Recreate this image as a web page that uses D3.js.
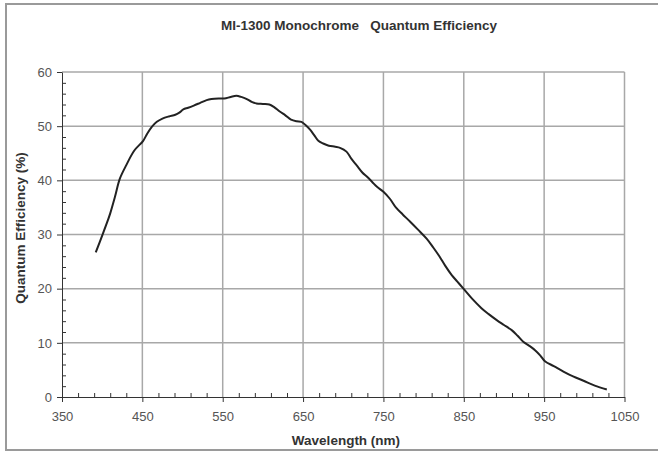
<!DOCTYPE html>
<html><head><meta charset="utf-8">
<script src="https://cdn.jsdelivr.net/npm/d3@7"></script>
<style>
html,body{margin:0;padding:0;background:#fff;}
svg{display:block;font-family:"Liberation Sans",Arial,sans-serif;}
</style></head>
<body><svg id="c" width="658" height="453"></svg>
<script>
const chartTitle = "MI-1300 Monochrome   Quantum Efficiency";
const xTitle = "Wavelength (nm)";
const yTitle = "Quantum Efficiency (%)";
const xTicks = [350,450,550,650,750,850,950,1050];
const yTicks = [0,10,20,30,40,50,60];
const wavelength = [392,400,407,410,416,422,430,440,451,456,462,468,475,483,491,496,501,507,514,522,530,536,545,552,560,567,573,580,586,592,600,608,614,621,628,635,642,648,653,659,664,669,675,682,690,696,704,710,717,724,730,736,742,750,758,766,774,783,793,804,812,820,827,835,842,849,860,872,881,891,900,910,917,924,932,939,945,951,962,974,986,999,1013,1028];
const qe = [26.7,29.8,32.6,33.9,37.0,40.3,42.8,45.5,47.3,48.6,49.9,50.8,51.4,51.8,52.1,52.5,53.1,53.4,53.8,54.3,54.8,55.0,55.1,55.1,55.4,55.6,55.4,55.0,54.5,54.2,54.1,54.0,53.5,52.7,52.0,51.2,50.9,50.8,50.2,49.3,48.3,47.3,46.8,46.4,46.2,46.0,45.3,44.0,42.7,41.4,40.6,39.7,38.8,37.9,36.6,34.9,33.7,32.4,30.9,29.2,27.6,25.9,24.2,22.5,21.3,20.1,18.2,16.4,15.3,14.2,13.3,12.3,11.3,10.2,9.4,8.6,7.7,6.6,5.7,4.7,3.8,3.0,2.1,1.4];

const svg = d3.select("#c");
const L=62, R=624.5, T=72, B=397;
const x = d3.scaleLinear().domain([350,1050]).range([L,R]);
const y = d3.scaleLinear().domain([0,60]).range([B,T]);

// outer frame
svg.append("rect").attr("x",6).attr("y",4).attr("width",670).attr("height",446)
  .attr("fill","#fff").attr("stroke","#9a9a9a").attr("stroke-width",2);

// gridlines
const grid = svg.append("g").attr("stroke","#a8a8a8").attr("stroke-width",1.5);
yTicks.filter(v=>v>0).forEach(v=>grid.append("line").attr("x1",L).attr("x2",R).attr("y1",y(v)).attr("y2",y(v)));
xTicks.filter(v=>v>350).forEach(v=>grid.append("line").attr("x1",x(v)).attr("x2",x(v)).attr("y1",T).attr("y2",B));

// minor ticks
const xMinor = d3.range(370,1050,20).filter(v=>(v-350)%100!==0);
const yMinor = d3.range(2,60,2).filter(v=>v%10!==0);
svg.append("g").attr("transform",`translate(0,${B})`)
  .call(d3.axisBottom(x).tickValues(xMinor).tickSize(-4).tickFormat(""))
  .call(g=>g.select(".domain").remove())
  .selectAll("line").attr("stroke","#333");
svg.append("g").attr("transform",`translate(${L},0)`)
  .call(d3.axisLeft(y).tickValues(yMinor).tickSize(-4).tickFormat(""))
  .call(g=>g.select(".domain").remove())
  .selectAll("line").attr("stroke","#333");

// major axes
const xa = svg.append("g").attr("transform",`translate(0,${B})`)
  .call(d3.axisBottom(x).tickValues(xTicks).tickFormat(d3.format("d")).tickSize(5).tickSizeOuter(0).tickPadding(10));
const ya = svg.append("g").attr("transform",`translate(${L},0)`)
  .call(d3.axisLeft(y).tickValues(yTicks).tickFormat(d3.format("d")).tickSize(5).tickSizeOuter(0).tickPadding(5));
[xa,ya].forEach(a=>{
  a.select(".domain").attr("stroke","#333");
  a.selectAll("line").attr("stroke","#333");
  a.selectAll("text").attr("fill","#555").style("font-size","13px").style("font-family","'Liberation Sans',Arial,sans-serif");
});

// curve
const pts = wavelength.map((w,i)=>[w,qe[i]]);
svg.append("path").datum(pts)
  .attr("fill","none").attr("stroke","#222").attr("stroke-width",2).attr("stroke-linejoin","round")
  .attr("d", d3.line().x(d=>x(d[0])).y(d=>y(d[1])).curve(d3.curveCatmullRom.alpha(0.5)));

// titles
svg.append("text").attr("x",359).attr("y",30).attr("text-anchor","middle")
  .attr("fill","#333").style("font-size","13.5px").style("font-weight","bold")
  .style("white-space","pre").text(chartTitle);
svg.append("text").attr("x",346).attr("y",445).attr("text-anchor","middle")
  .attr("fill","#333").style("font-size","13.5px").style("font-weight","bold").text(xTitle);
svg.append("text").attr("transform","translate(25,228) rotate(-90)").attr("text-anchor","middle")
  .attr("fill","#333").style("font-size","13.5px").style("font-weight","bold").text(yTitle);
</script></body></html>
